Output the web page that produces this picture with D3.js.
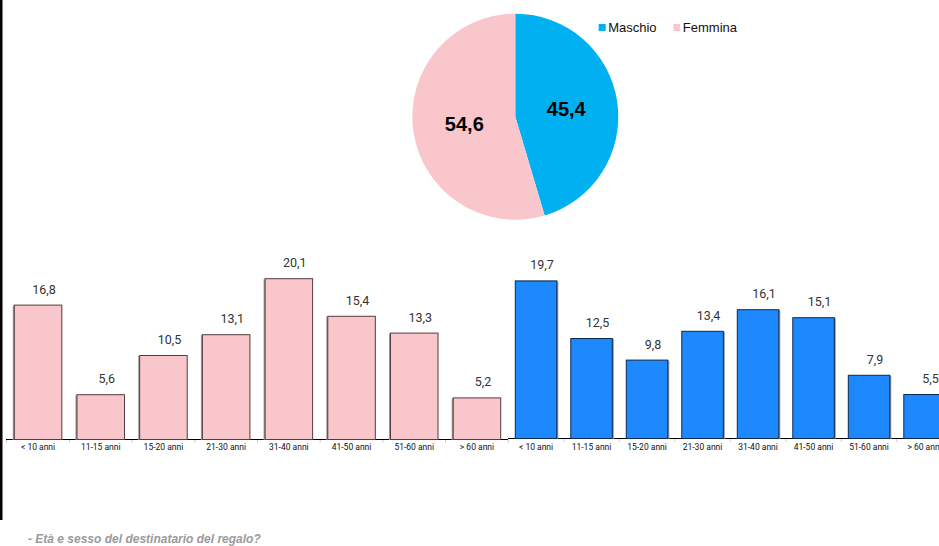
<!DOCTYPE html>
<html><head><meta charset="utf-8">
<script src="https://cdn.jsdelivr.net/npm/d3@7"></script>
<style>body{margin:0;background:#fff;overflow:hidden}svg{display:block}</style>
</head><body>
<script>
const ageCats = ["< 10 anni","11-15 anni","15-20 anni","21-30 anni","31-40 anni","41-50 anni","51-60 anni","> 60 anni"];
const femValues = [16.8,5.6,10.5,13.1,20.1,15.4,13.3,5.2];
const maleValues = [19.7,12.5,9.8,13.4,16.1,15.1,7.9,5.5];
const sexLabels = ["Maschio","Femmina"];
const sexValues = [45.4,54.6];
const title = "- Età e sesso del destinatario del regalo?";

const W=939,H=546;
const svg=d3.select("body").append("svg").attr("width",W).attr("height",H);
const fmt=v=>String(v.toFixed(1)).replace(".",",");

// left black bar
svg.append("rect").attr("x",0).attr("y",0).attr("width",2.5).attr("height",520).attr("fill","#000");

// pie
const pieColors=["#00b0f0","#f9c6cc"];
const pie=d3.pie().sort(null).value(d=>d)(sexValues);
const R=103, cx=515.3, cy=116.7;
const arc=d3.arc().innerRadius(0).outerRadius(R);
const labArc=d3.arc().innerRadius(R*0.5).outerRadius(R*0.5);
const pg=svg.append("g").attr("transform",`translate(${cx},${cy})`);
pg.selectAll("path").data(pie).join("path").attr("d",arc).attr("fill",(d,i)=>pieColors[i]);
pg.selectAll("text").data(pie).join("text")
 .attr("transform",d=>{const c=labArc.centroid(d);return `translate(${c[0]},${c[1]})`;})
 .attr("text-anchor","middle").attr("dy","0.36em")
 .attr("font-family","Liberation Sans, Arial, sans-serif").attr("font-weight","bold").attr("font-size",20)
 .text(d=>fmt(d.data));
// legend
const lg=svg.append("g");
const legX=[598.7,673.3];
sexLabels.forEach((s,i)=>{
  lg.append("rect").attr("x",legX[i]).attr("y",24).attr("width",7).attr("height",7).attr("fill",pieColors[i]);
  lg.append("text").attr("x",legX[i]+9.5).attr("y",32).attr("font-family","Liberation Sans, Arial, sans-serif").attr("font-size",13).attr("fill","#111").text(s);
});

const y=d3.scaleLinear().domain([0,20]).range([0,160]);

function bars(opts){
  const x=d3.scaleBand().domain(ageCats).range([opts.x0,opts.x1]).paddingInner(opts.pad).paddingOuter(opts.pad/2);
  const g=svg.append("g");
  const base=opts.base;
  g.append("line").attr("x1",opts.lineStart).attr("x2",Math.min(opts.x1,W)).attr("y1",base+0.5).attr("y2",base+0.5).attr("stroke","#000");
  const ticks=ageCats.map(c=>x(c)-x.step()*x.paddingInner()/2);
  ticks.push(opts.x1);
  g.selectAll("line.t").data(ticks).join("line").attr("class","t")
   .attr("x1",d=>d).attr("x2",d=>d).attr("y1",base+1).attr("y2",base+4).attr("stroke","#ccc");
  g.selectAll("rect.s").data(opts.values).join("rect").attr("class","s")
   .attr("x",(d,i)=>x(ageCats[i])+opts.shadowDx).attr("y",d=>base-y(d)+1)
   .attr("width",x.bandwidth()).attr("height",d=>y(d)).attr("fill","#999");
  g.selectAll("rect.b").data(opts.values).join("rect").attr("class","b")
   .attr("x",(d,i)=>x(ageCats[i])+0.5).attr("y",d=>base-y(d)+0.5)
   .attr("width",x.bandwidth()-1).attr("height",d=>y(d)).attr("fill",opts.fill).attr("stroke",opts.stroke).attr("stroke-width",1);
  g.selectAll("text.v").data(opts.values).join("text").attr("class","v")
   .attr("x",(d,i)=>x(ageCats[i])+x.bandwidth()/2+6).attr("y",d=>base-y(d)-11)
   .attr("text-anchor","middle").attr("font-family","Roboto, Liberation Sans, sans-serif").attr("font-size",12.5).attr("fill","#333")
   .text(d=>fmt(d));
  g.selectAll("text.c").data(ageCats).join("text").attr("class","c")
   .attr("x",d=>x(d)+x.bandwidth()/2).attr("y",450)
   .attr("text-anchor","middle").attr("font-family","Roboto, Liberation Sans, sans-serif").attr("font-size",8.5).attr("fill","#111")
   .text(d=>d);
}
bars({values:femValues,x0:6.7,x1:508.3,pad:0.226,base:439,lineStart:6,fill:"#f9c6cc",stroke:"#553c3c",shadowDx:-1});
bars({values:maleValues,x0:508.3,x1:952.3,pad:0.234,base:438,lineStart:508,fill:"#1e88ff",stroke:"#0b2a4f",shadowDx:1});

svg.append("text").attr("x",28).attr("y",543).attr("font-family","Liberation Sans, Arial, sans-serif")
 .attr("font-size",12).attr("font-weight","bold").attr("font-style","italic").attr("fill","#9a9a9a").text(title);
</script>
</body></html>
